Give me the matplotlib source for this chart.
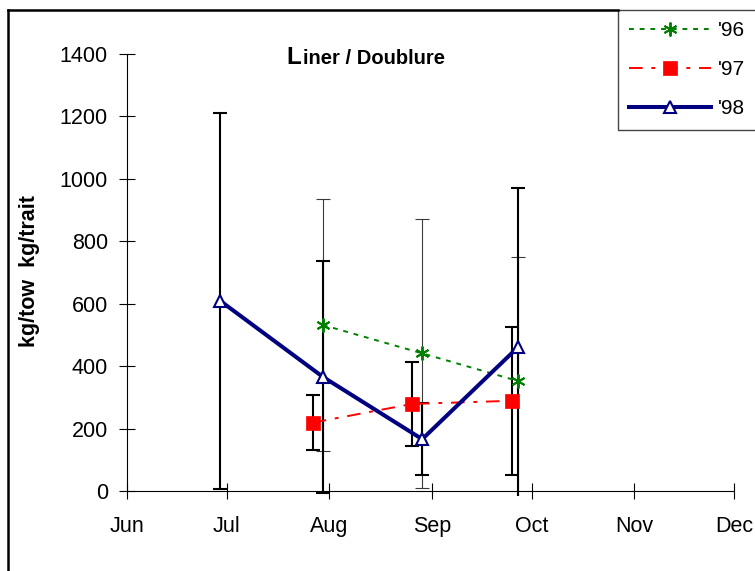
import matplotlib
matplotlib.use("Agg")
import matplotlib.pyplot as plt
from matplotlib.lines import Line2D
import pandas as pd

plt.rcParams['font.family'] = ['Liberation Sans', 'DejaVu Sans']

# Month axis
month_labels = ['Jun', 'Jul', 'Aug', 'Sep', 'Oct', 'Nov', 'Dec']
month_starts = ['2000-06-01', '2000-07-01', '2000-08-01', '2000-09-01',
                '2000-10-01', '2000-11-01', '2000-12-01']
y_ticks = [0, 200, 400, 600, 800, 1000, 1200, 1400]

# Catch rates (kg/tow) with error bar half-widths, per season
dates_96 = ['2000-07-30', '2000-08-29', '2000-09-27']
vals_96 = [532, 441, 352]
err_96 = [405, 430, 399]

dates_97 = ['2000-07-27', '2000-08-26', '2000-09-25']
vals_97 = [219, 279, 289]
err_97 = [87, 135, 237]

dates_98 = ['2000-06-29', '2000-07-30', '2000-08-29', '2000-09-27']
vals_98 = [610, 366, 166, 462]
err_98 = [602, 371, 116, 509]

W, H = 755, 571
fig = plt.figure(figsize=(W / 100, H / 100), dpi=100)
ax = fig.add_axes([127 / W, 1 - 496 / H, (734 - 127) / W, (496 - 54) / H])

d96 = pd.to_datetime(dates_96)
d97 = pd.to_datetime(dates_97)
d98 = pd.to_datetime(dates_98)

# Error bars
ax.errorbar(d96, vals_96, yerr=err_96, fmt='none', ecolor='#3a3a3a',
            elinewidth=0.8, capsize=5, capthick=0.8, zorder=2)
ax.errorbar(d97, vals_97, yerr=err_97, fmt='none', ecolor='black',
            elinewidth=1.5, capsize=5, capthick=1.5, zorder=2)
ax.errorbar(d98, vals_98, yerr=err_98, fmt='none', ecolor='black',
            elinewidth=1.5, capsize=5, capthick=1.5, zorder=2)

# Series lines
ax.plot(d96, vals_96, color='#008000', lw=1.4, ls=(0, (2.5, 3)),
        marker=(6, 2, 0), ms=10, mew=1.4, mec='#008000', label="'96", zorder=4)
ax.plot(d97, vals_97, color='#ff0000', lw=1.4, ls=(0, (7, 4.5, 2, 4.5)),
        marker='s', ms=9.5, mfc='#ff0000', mec='#ff0000', mew=0.5,
        label="'97", zorder=4)
ax.plot(d98, vals_98, color='#000080', lw=2.9, ls='-',
        marker='^', ms=9, mfc='white', mec='#000080', mew=1.5,
        label="'98", zorder=5)

ax.set_xlim(pd.Timestamp(month_starts[0]), pd.Timestamp(month_starts[-1]))
ax.set_ylim(-16, 1400)
ax.set_xticks(pd.to_datetime(month_starts))
ax.set_xticklabels(month_labels)
ax.set_yticks(y_ticks)
ax.set_yticklabels([str(v) for v in y_ticks])

for s in ('top', 'right'):
    ax.spines[s].set_visible(False)
ax.spines['bottom'].set_position(('data', 0))
ax.spines['left'].set_bounds(0, 1400)
ax.spines['left'].set_linewidth(0.8)
ax.spines['bottom'].set_linewidth(0.8)
ax.tick_params(axis='both', direction='inout', length=11.5, width=0.8,
               labelsize=15.5, colors='black')
ax.tick_params(axis='y', pad=8)
ax.tick_params(axis='x', pad=12)
ax.patch.set_visible(False)

ax.set_ylabel('kg/tow  kg/trait', fontsize=15.5, fontweight='bold')
ax.yaxis.set_label_coords(40 / W, 1 - 271 / H, transform=fig.transFigure)

# Title with enlarged initial
renderer = fig.canvas.get_renderer()
t_init = fig.text(286 / W, 1 - 64 / H, 'L', fontsize=17.5, fontweight='bold',
                  ha='left', va='baseline')
x_rest = t_init.get_window_extent(renderer).x1 + 2
fig.text(x_rest / W, 1 - 64 / H, 'iner / Doublure', fontsize=14.5,
         fontweight='bold', ha='left', va='baseline')

leg = ax.legend(loc='upper left', bbox_to_anchor=(618 / W, 1 - 10 / H),
                bbox_transform=fig.transFigure, borderaxespad=0,
                frameon=True, fancybox=False, edgecolor='#444444',
                framealpha=1, fontsize=15, handlelength=3.9,
                handletextpad=0.35, labelspacing=0.95, borderpad=0.55)
leg.get_frame().set_linewidth(1.0)

# Outer chart frame
fig.add_artist(Line2D([8 / W, 8 / W], [0, 1 - 10 / H], transform=fig.transFigure,
                      color='black', lw=1.8))
fig.add_artist(Line2D([8 / W, 618 / W], [1 - 10 / H, 1 - 10 / H],
                      transform=fig.transFigure, color='black', lw=1.8))

fig.savefig('out.png', dpi=100)
